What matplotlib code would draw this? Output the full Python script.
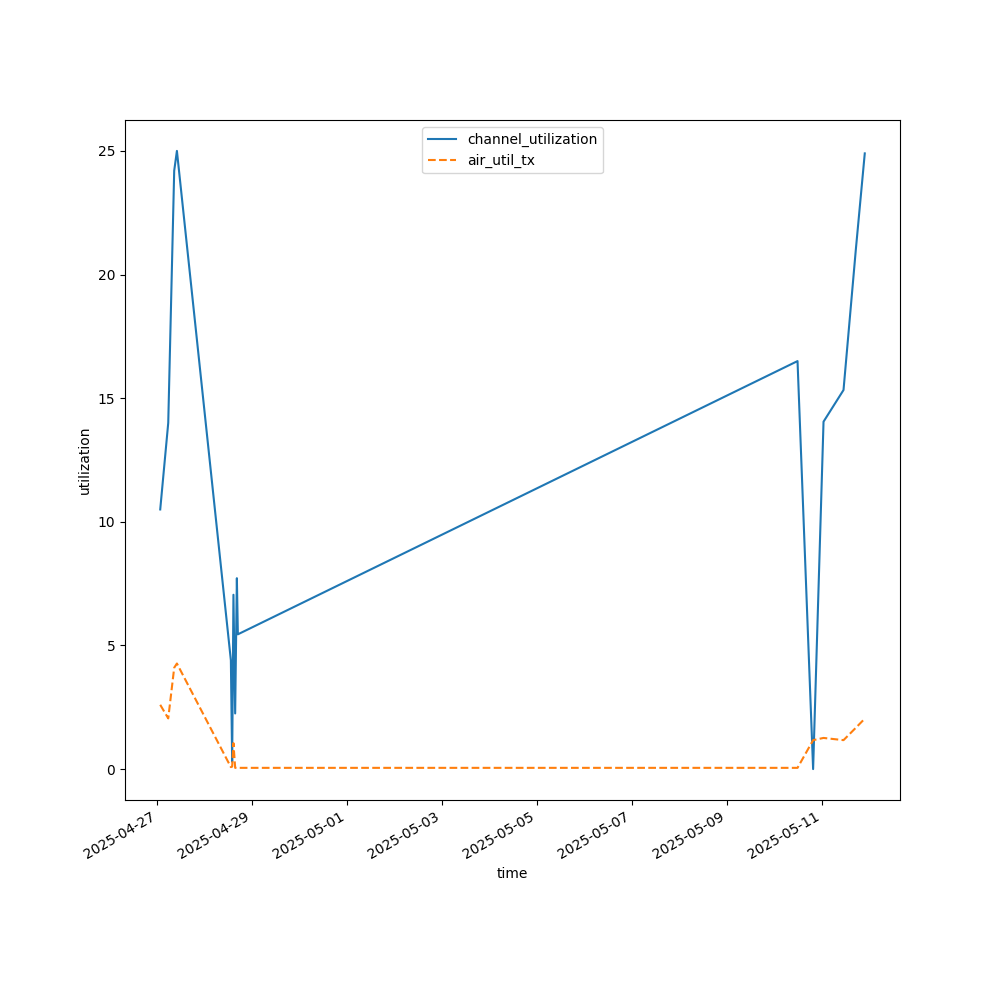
import matplotlib
matplotlib.use("Agg")
import matplotlib.pyplot as plt
import numpy as np
import pandas as pd

times = pd.to_datetime([
    "2025-04-27 01:31", "2025-04-27 05:34", "2025-04-27 08:35", "2025-04-27 09:57",
    "2025-04-28 13:14", "2025-04-28 13:53", "2025-04-28 14:32", "2025-04-28 15:24",
    "2025-04-28 16:16", "2025-04-28 16:46", "2025-05-10 11:43", "2025-05-10 19:36",
    "2025-05-11 00:52", "2025-05-11 10:58", "2025-05-11 17:11", "2025-05-11 21:43",
])
channel_utilization = [10.5, 14.0, 24.2, 25.0, 4.4, 0.3, 7.05, 2.25,
                       7.72, 5.45, 16.5, 0.0, 14.05, 15.33, 21.0, 24.9]
air_util_tx = [2.6, 2.05, 4.1, 4.27, 0.08, 0.1, 1.05, 0.05,
               0.05, 0.05, 0.05, 1.17, 1.26, 1.17, 1.67, 2.04]

fig, ax = plt.subplots(figsize=(10, 10), dpi=100)
ax.plot(times, channel_utilization, color="C0", linestyle="-", label="channel_utilization")
ax.plot(times, air_util_tx, color="C1", linestyle="--", label="air_util_tx")
ax.set_xlabel("time")
ax.set_ylabel("utilization")
ax.legend(loc="upper center")
fig.autofmt_xdate()
fig.savefig("out.png")
